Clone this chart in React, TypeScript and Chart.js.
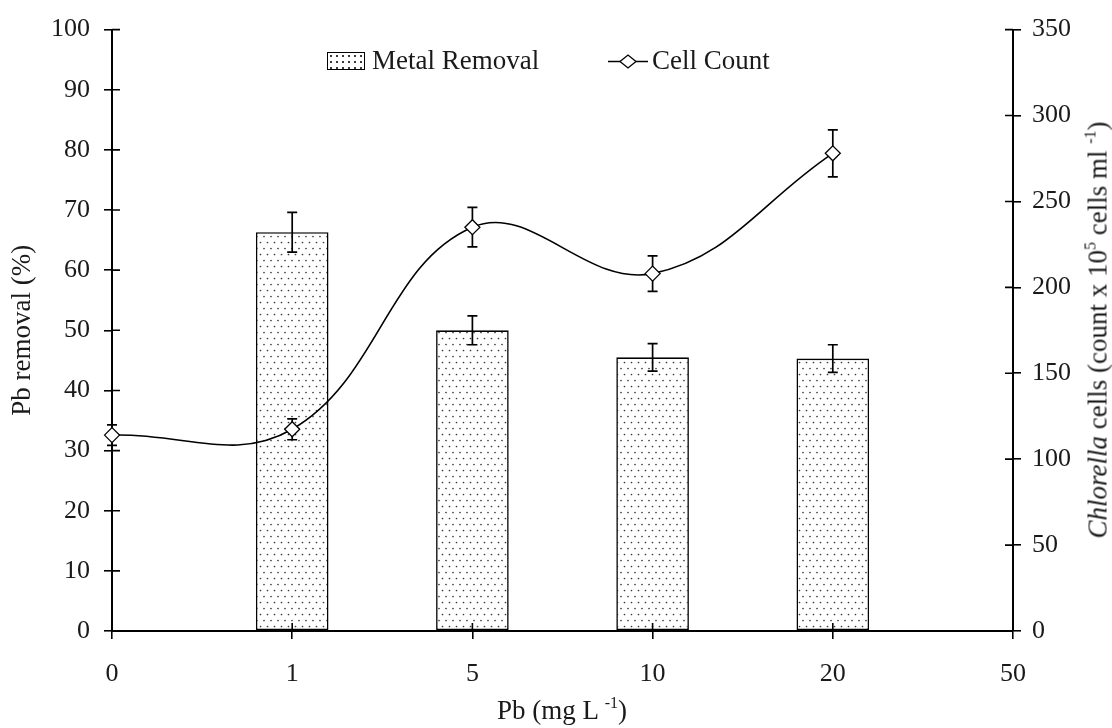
import React, { useEffect, useRef } from 'react';
import { Chart, registerables } from 'chart.js';

Chart.register(...registerables);

// ---- data ----
const categories = ['0', '1', '5', '10', '20', '50'];
const metalRemoval = [null, 66.3, 50.0, 45.5, 45.3, null];
const metalRemovalErr = [0, 3.3, 2.4, 2.3, 2.3, 0];
const cellCount = [114, 117.4, 235, 208, 278, null];
const cellCountErr = [6, 6.1, 11.5, 10.3, 13.7, 0];
const leftTickValues = [0, 10, 20, 30, 40, 50, 60, 70, 80, 90, 100];
const rightTickValues = [0, 50, 100, 150, 200, 250, 300, 350];

const FONT = '"Liberation Serif", "Times New Roman", serif';
const TEXT = '#1a1a1a';

function makeDotPattern(): CanvasPattern | string {
  const c = document.createElement('canvas');
  c.width = 7;
  c.height = 12;
  const g = c.getContext('2d');
  if (!g) return '#eee';
  g.fillStyle = '#ffffff';
  g.fillRect(0, 0, 7, 12);
  g.fillStyle = '#3a3a3a';
  g.beginPath();
  g.arc(1.5, 2.5, 0.85, 0, Math.PI * 2);
  g.fill();
  g.beginPath();
  g.arc(5, 8.5, 0.85, 0, Math.PI * 2);
  g.fill();
  return g.createPattern(c, 'repeat') || '#eee';
}

function drawErrors(chart: any, dsIndex: number, axis: string, vals: (number | null)[], errs: number[]) {
  const meta = chart.getDatasetMeta(dsIndex);
  const scale = chart.scales[axis];
  const ctx = chart.ctx as CanvasRenderingContext2D;
  ctx.save();
  ctx.strokeStyle = '#000';
  ctx.lineWidth = 1.7;
  vals.forEach((v, i) => {
    if (v == null || !errs[i]) return;
    const el = meta.data[i];
    if (!el) return;
    const x = el.x;
    const yT = scale.getPixelForValue(v + errs[i]);
    const yB = scale.getPixelForValue(v - errs[i]);
    ctx.beginPath();
    ctx.moveTo(x, yT);
    ctx.lineTo(x, yB);
    ctx.moveTo(x - 5, yT);
    ctx.lineTo(x + 5, yT);
    ctx.moveTo(x - 5, yB);
    ctx.lineTo(x + 5, yB);
    ctx.stroke();
  });
  ctx.restore();
}

const errorBarsPlugin = {
  id: 'errorBars',
  afterDatasetDraw(chart: any, args: any) {
    if (args.index === 0) drawErrors(chart, 0, 'y', metalRemoval, metalRemovalErr);
  },
  beforeDatasetDraw(chart: any, args: any) {
    if (args.index === 1) drawErrors(chart, 1, 'y1', cellCount, cellCountErr);
  },
};

const innerTicksPlugin = {
  id: 'innerTicks',
  afterDatasetsDraw(chart: any) {
    const { ctx, chartArea, scales } = chart;
    ctx.save();
    ctx.strokeStyle = '#000';
    ctx.lineWidth = 1.6;
    ctx.beginPath();
    scales.y.ticks.forEach((_: any, i: number) => {
      const y = scales.y.getPixelForTick(i);
      ctx.moveTo(chartArea.left, y);
      ctx.lineTo(chartArea.left + 8, y);
    });
    scales.y1.ticks.forEach((_: any, i: number) => {
      const y = scales.y1.getPixelForTick(i);
      ctx.moveTo(chartArea.right - 8, y);
      ctx.lineTo(chartArea.right, y);
    });
    scales.x.ticks.forEach((_: any, i: number) => {
      const x = scales.x.getPixelForTick(i);
      ctx.moveTo(x, chartArea.bottom);
      ctx.lineTo(x, chartArea.bottom - 8);
    });
    ctx.stroke();
    ctx.restore();
  },
};

export default function App() {
  const ref = useRef<HTMLCanvasElement>(null);

  useEffect(() => {
    document.body.style.margin = '0';
    const canvas = ref.current;
    if (!canvas) return;
    const dots = makeDotPattern();
    const tickFont = { family: FONT, size: 26 };
    const axisGrid = {
      display: true,
      drawOnChartArea: false,
      drawTicks: true,
      tickLength: 8,
      color: '#000',
      lineWidth: 1.6,
      offset: false,
    };
    const axisBorder = { display: true, color: '#000', width: 2 };

    const chart = new Chart(canvas, {
      type: 'bar',
      data: {
        labels: categories,
        datasets: [
          {
            type: 'bar',
            label: 'Metal Removal',
            data: metalRemoval as any,
            yAxisID: 'y',
            backgroundColor: dots as any,
            borderColor: '#000',
            borderWidth: 1.6,
            borderSkipped: false,
            categoryPercentage: 1,
            barPercentage: 0.403,
            order: 1,
          },
          {
            type: 'line',
            label: 'Cell Count',
            data: cellCount as any,
            yAxisID: 'y1',
            borderColor: '#000',
            borderWidth: 1.6,
            tension: 0.4,
            fill: false,
            pointStyle: 'rectRot',
            pointRadius: 7.5,
            pointBackgroundColor: '#fff',
            pointBorderColor: '#000',
            pointBorderWidth: 1.3,
            clip: false as any,
            order: 0,
          } as any,
        ],
      },
      options: {
        animation: false,
        responsive: false,
        maintainAspectRatio: false,
        layout: { padding: { top: 22, left: 0, right: 0, bottom: 0 } },
        plugins: {
          legend: { display: false },
          tooltip: { enabled: false },
        },
        scales: {
          x: {
            type: 'category',
            offset: false,
            grid: axisGrid as any,
            border: axisBorder,
            ticks: { font: tickFont, color: TEXT, padding: 20, maxRotation: 0, autoSkip: false },
            afterFit: (s: any) => {
              s.height = 97;
            },
          },
          y: {
            type: 'linear',
            position: 'left',
            min: 0,
            max: 100,
            grid: axisGrid as any,
            border: axisBorder,
            ticks: { font: tickFont, color: TEXT, padding: 14 },
            afterBuildTicks: (s: any) => {
              s.ticks = leftTickValues.map((v) => ({ value: v }));
            },
            title: {
              display: true,
              text: 'Pb removal (%)',
              font: { family: FONT, size: 27 },
              color: TEXT,
              padding: { top: 7, bottom: 0 },
            },
            afterFit: (s: any) => {
              s.width = 112;
            },
          },
          y1: {
            type: 'linear',
            position: 'right',
            min: 0,
            max: 350,
            grid: axisGrid as any,
            border: axisBorder,
            ticks: { font: tickFont, color: TEXT, padding: 11 },
            afterBuildTicks: (s: any) => {
              s.ticks = rightTickValues.map((v) => ({ value: v }));
            },
            afterFit: (s: any) => {
              s.width = 99;
            },
          },
        },
      },
      plugins: [errorBarsPlugin, innerTicksPlugin],
    });
    return () => chart.destroy();
  }, []);

  const textStyle: React.CSSProperties = {
    position: 'absolute',
    fontFamily: FONT,
    fontSize: 27,
    lineHeight: '27px',
    color: TEXT,
    whiteSpace: 'nowrap',
  };
  const supStyle: React.CSSProperties = {
    fontSize: 16,
    position: 'relative',
    top: -11,
    verticalAlign: 'baseline',
    lineHeight: 0,
  };

  return (
    <div
      style={{
        position: 'fixed',
        left: 0,
        top: 0,
        width: 1112,
        height: 728,
        overflow: 'hidden',
        background: '#fff',
      }}
    >
      <canvas ref={ref} width={1112} height={728} style={{ position: 'absolute', left: 0, top: 0, width: 1112, height: 728 }} />

      {/* legend */}
      <div
        style={{
          position: 'absolute',
          left: 327,
          top: 52,
          width: 38,
          height: 18,
          boxSizing: 'border-box',
          border: '1.5px solid #000',
          background: 'radial-gradient(circle, #3a3a3a 0.8px, transparent 1.2px) 0 0 / 6px 6px, #fff',
        }}
      />
      <div style={{ ...textStyle, left: 372, top: 47 }}>Metal Removal</div>
      <svg style={{ position: 'absolute', left: 606, top: 50 }} width={44} height={24}>
        <line x1={2} y1={11.5} x2={42} y2={11.5} stroke="#000" strokeWidth={1.6} />
        <polygon points="14,11.5 22,5 30,11.5 22,18" fill="#fff" stroke="#000" strokeWidth={1.3} />
      </svg>
      <div style={{ ...textStyle, left: 652, top: 47 }}>Cell Count</div>

      {/* x-axis title */}
      <div style={{ ...textStyle, left: 562, top: 697, transform: 'translateX(-50%)' }}>
        Pb (mg L <span style={supStyle}>-1</span>)
      </div>

      {/* right axis title */}
      <div
        style={{
          ...textStyle,
          left: 1098,
          top: 330,
          transform: 'translate(-50%, -50%) rotate(-90deg)',
        }}
      >
        <i>Chlorella</i> cells (count x 10<span style={supStyle}>5</span> cells ml <span style={supStyle}>-1</span>)
      </div>
    </div>
  );
}
